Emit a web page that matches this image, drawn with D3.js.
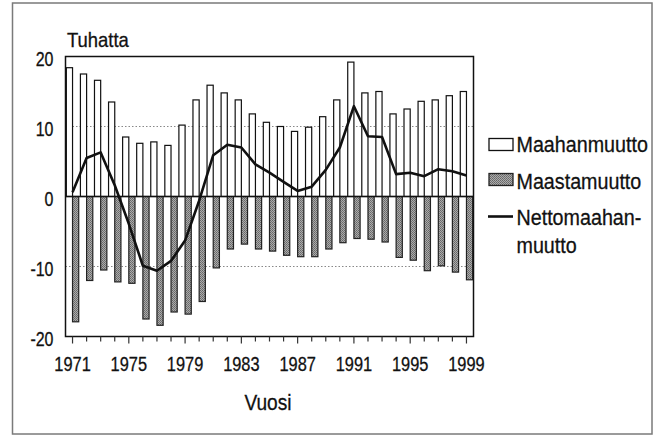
<!DOCTYPE html>
<html>
<head>
<meta charset="utf-8">
<script src="https://cdn.jsdelivr.net/npm/d3@7"></script>
<style>
  body { margin: 0; background: #fff; }
  svg text { font-family: "Liberation Sans", Arial, sans-serif; fill: #111; stroke: #111; stroke-width: 0.3px; }
</style>
</head>
<body>
<svg id="chart"></svg>
<script>
const years = d3.range(1971, 2000);

// tuhatta henkeä
const maahanmuutto = [18.4, 17.5, 16.6, 13.5, 8.5, 7.6, 7.8, 7.3, 10.2, 13.8,
  15.9, 14.8, 13.8, 11.8, 10.6, 10.0, 9.3, 9.9, 11.4, 13.8,
  19.2, 14.8, 15.0, 11.8, 12.5, 13.6, 13.8, 14.4, 15.0];
const maastamuutto = [-17.9, -12.0, -10.5, -12.2, -12.4, -17.5, -18.4, -16.5, -16.8, -15.0,
  -10.2, -7.5, -6.8, -7.5, -7.8, -8.4, -8.6, -8.6, -7.5, -6.6,
  -6.0, -6.1, -6.5, -8.7, -9.1, -10.6, -9.9, -10.8, -11.9];
const netto = [0.6, 5.5, 6.3, 1.6, -3.9, -9.9, -10.6, -9.2, -6.3, -0.6,
  5.9, 7.4, 7.0, 4.6, 3.4, 2.1, 0.8, 1.4, 3.8, 7.0,
  12.9, 8.6, 8.5, 3.2, 3.4, 2.9, 3.9, 3.6, 3.0];

const yTicks = [-20, -10, 0, 10, 20];
const gridTicks = [-10, 10];
const labelYears = [1971, 1975, 1979, 1983, 1987, 1991, 1995, 1999];
const legendItems = ["Maahanmuutto", "Maastamuutto", "Nettomaahan-", "muutto"];

const width = 664;
const height = 436;
const plot = { left: 65.5, right: 473.5, top: 56.5, bottom: 336.5 };

const svg = d3.select("#chart")
  .attr("width", width)
  .attr("height", height);

// kapea kirjasin: Liberation Sans puristettuna vaakasuunnassa
function narrowText(parent, str, px, py, size, sx, anchor) {
  return parent.append("text")
    .attr("transform", `translate(${px},${py}) scale(${sx},1)`)
    .attr("text-anchor", anchor || "start")
    .style("font-size", size + "px")
    .text(str);
}

// pisterasteri harmaille pylväille
const defs = svg.append("defs");
const pattern = defs.append("pattern")
  .attr("id", "stipple")
  .attr("patternUnits", "userSpaceOnUse")
  .attr("width", 2)
  .attr("height", 2);
pattern.append("rect").attr("width", 2).attr("height", 2).attr("fill", "#ababab");
pattern.append("rect").attr("width", 1).attr("height", 1).attr("fill", "#666");
pattern.append("rect").attr("x", 1).attr("y", 1).attr("width", 1).attr("height", 1).attr("fill", "#737373");

// ulkokehys
svg.append("rect")
  .attr("x", 12.5)
  .attr("y", 3)
  .attr("width", 639.5)
  .attr("height", 431)
  .attr("fill", "none")
  .attr("stroke", "#7a7a7a")
  .attr("stroke-width", 1.5);

const x = d3.scaleBand()
  .domain(years)
  .range([plot.left, plot.right])
  .padding(0);

const y = d3.scaleLinear()
  .domain([-20, 20])
  .range([plot.bottom, plot.top]);

const cx = d => x(d) + x.bandwidth() / 2;
const barW = x.bandwidth() * 0.44;

// apuviivat
svg.selectAll(".grid")
  .data(gridTicks)
  .join("line")
  .attr("class", "grid")
  .attr("x1", plot.left)
  .attr("x2", plot.right)
  .attr("y1", d => y(d))
  .attr("y2", d => y(d))
  .attr("stroke", "#888")
  .attr("stroke-width", 1)
  .attr("stroke-dasharray", "1.5,2");

// Maahanmuutto
svg.selectAll(".bar-in")
  .data(years)
  .join("rect")
  .attr("class", "bar-in")
  .attr("x", d => cx(d) - barW)
  .attr("width", barW)
  .attr("y", (d, i) => y(maahanmuutto[i]))
  .attr("height", (d, i) => y(0) - y(maahanmuutto[i]))
  .attr("fill", "#fff")
  .attr("stroke", "#111")
  .attr("stroke-width", 1.2);

// Maastamuutto
svg.selectAll(".bar-out")
  .data(years)
  .join("rect")
  .attr("class", "bar-out")
  .attr("x", d => cx(d))
  .attr("width", barW)
  .attr("y", y(0))
  .attr("height", (d, i) => y(maastamuutto[i]) - y(0))
  .attr("fill", "url(#stipple)")
  .attr("stroke", "#222")
  .attr("stroke-width", 1.2);

// nollaviiva
svg.append("line")
  .attr("x1", plot.left)
  .attr("x2", plot.right)
  .attr("y1", y(0))
  .attr("y2", y(0))
  .attr("stroke", "#111")
  .attr("stroke-width", 1.6);

// Nettomaahanmuutto
const line = d3.line()
  .x(d => cx(d.year))
  .y(d => y(d.value));

svg.append("path")
  .datum(years.map((year, i) => ({ year: year, value: netto[i] })))
  .attr("d", line)
  .attr("fill", "none")
  .attr("stroke", "#111")
  .attr("stroke-width", 2.6)
  .attr("stroke-linejoin", "round");

// kuvaajan kehys
svg.append("rect")
  .attr("x", plot.left)
  .attr("y", plot.top)
  .attr("width", plot.right - plot.left)
  .attr("height", plot.bottom - plot.top)
  .attr("fill", "none")
  .attr("stroke", "#111")
  .attr("stroke-width", 1.5);

// x-akseli
const xAxis = svg.append("g")
  .attr("transform", `translate(0,${plot.bottom})`)
  .call(d3.axisBottom(x)
    .tickSize(5)
    .tickFormat(d => labelYears.includes(d) ? d : ""));
xAxis.attr("font-family", null).attr("font-size", null);
xAxis.select(".domain").remove();
xAxis.selectAll(".tick line")
  .attr("stroke", "#333")
  .attr("stroke-width", 1.2)
  .attr("y2", d => labelYears.includes(d) ? 7 : 5);
xAxis.selectAll(".tick text")
  .attr("y", 0)
  .attr("dy", 0)
  .attr("transform", "translate(0,34.5) scale(0.8,1)")
  .style("font-size", "20.5px")
  .attr("fill", null);

// y-akselin nimiöt
yTicks.forEach(d => narrowText(svg, d, 53.5, y(d) + 9.5, 19.5, 0.82, "end"));

narrowText(svg, "Tuhatta", 67, 47, 20.5, 0.9);
narrowText(svg, "Vuosi", 268, 410, 22, 0.87, "middle");

// selite
const legend = svg.append("g");
legend.append("rect")
  .attr("x", 489)
  .attr("y", 138.5)
  .attr("width", 24)
  .attr("height", 12)
  .attr("fill", "#fff")
  .attr("stroke", "#111")
  .attr("stroke-width", 1.3);
legend.append("rect")
  .attr("x", 489)
  .attr("y", 173.5)
  .attr("width", 24)
  .attr("height", 12)
  .attr("fill", "url(#stipple)")
  .attr("stroke", "#222")
  .attr("stroke-width", 1.3);
legend.append("line")
  .attr("x1", 488)
  .attr("x2", 513)
  .attr("y1", 216.5)
  .attr("y2", 216.5)
  .attr("stroke", "#111")
  .attr("stroke-width", 2.6);

const legendBaselines = [152, 189, 225, 253];
legendItems.forEach((d, i) => narrowText(legend, d, 516.5, legendBaselines[i], 22.4, 0.88));
</script>
</body>
</html>
